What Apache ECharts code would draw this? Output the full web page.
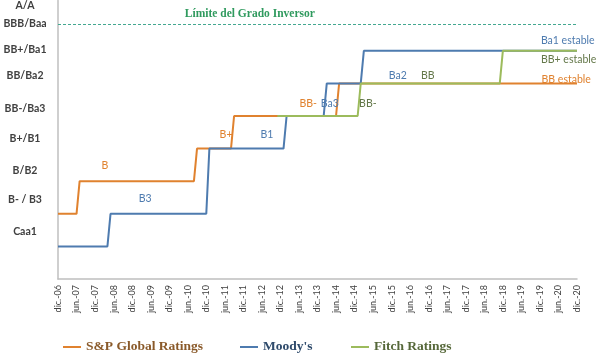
<!DOCTYPE html>
<html>
<head>
<meta charset="utf-8">
<script src="https://cdn.jsdelivr.net/npm/echarts@6/dist/echarts.min.js"></script>
<style>html,body{margin:0;padding:0;background:#fff}#c{width:600px;height:356px}</style>
</head>
<body>
<div id="c"></div>
<script>
// ---- data (x = months since dic.-06, y = rating level: 1=Caa1 ... 7=BB+/Ba1, 8=BBB/Baa) ----
const xTickLabels = ['dic.-06','jun.-07','dic.-07','jun.-08','dic.-08','jun.-09','dic.-09','jun.-10','dic.-10',
  'jun.-11','dic.-11','jun.-12','dic.-12','jun.-13','dic.-13','jun.-14','dic.-14','jun.-15','dic.-15',
  'jun.-16','dic.-16','jun.-17','dic.-17','jun.-18','dic.-18','jun.-19','dic.-19','jun.-20','dic.-20'];
const yTickLabels = ['Caa1','B- / B3','B/B2','B+/B1','BB-/Ba3','BB/Ba2','BB+/Ba1','BBB/Baa','A/A'];
const yTickValues = [1.44, 2.45, 3.31, 4.32, 5.24, 6.24, 7.04, 7.84, 8.39];
const spData = [[0,2],[6,2],[7,3],[44,3],[45,4],[56,4],[57,5],[90,5],[91,6],[168,6]];
const moodysData = [[0,1],[16,1],[17,2],[48,2],[49,4],[73,4],[74,5],[86,5],[87,6],[98,6],[99,7],[168,7]];
const fitchData = [[71,5],[97,5],[98,6],[143,6],[144,7],[168,7]];
const investGradeLimit = 7.83;
const seriesNames = ['S&P Global Ratings', "Moody's", 'Fitch Ratings'];
const spNotes = [['B',15.2,3.49],['B+',54.4,4.44],['BB-',81,5.39],['BB estable',164.5,6.13]];
const moodysNotes = [['B3',28.2,2.48],['B1',67.6,4.44],['Ba3',88,5.39],['Ba2',110,6.24],['Ba1 estable',165,7.32]];
const fitchNotes = [['BB-',100.3,5.39],['BB',119.7,6.24],['BB+ estable',165.3,6.73]];

const C_SP = '#E0822F', C_MO = '#4E7BAF', C_FI = '#9CBB5C';
const chart = echarts.init(document.getElementById('c'));
function notes(list, color) {
  return {
    symbol: 'circle', symbolSize: 0, silent: true,
    label: { show: true, position: 'inside', color: color, fontFamily: 'Lato', fontSize: 10.5 },
    data: list.map(n => ({ name: n[0], coord: [n[1], n[2]], label: { formatter: n[0] } }))
  };
}
const lineBase = { type: 'line', showSymbol: false, symbol: 'none', clip: false, animation: false };
chart.setOption({
  animation: false,
  grid: { left: 58, right: 23, top: 0, bottom: 77 },
  xAxis: {
    type: 'value', min: 0, max: 168, interval: 6,
    axisLine: { lineStyle: { color: '#BFBFBF', width: 1.5 } },
    axisTick: { show: false }, splitLine: { show: false },
    axisLabel: { rotate: 90, margin: 6, fontFamily: 'Lato', fontSize: 9, color: '#404040',
      showMinLabel: true, showMaxLabel: true,
      formatter: v => xTickLabels[Math.round(v / 6)] || '' }
  },
  yAxis: {
    type: 'value', min: 0, max: 8.54,
    axisLine: { show: true, lineStyle: { color: '#BFBFBF', width: 1.5 } },
    axisTick: { show: false }, splitLine: { show: false },
    axisLabel: { customValues: yTickValues, align: 'center', margin: 33,
      fontFamily: 'Lato', fontWeight: 'bold', fontSize: 10.5, color: '#404040',
      formatter: v => { const i = yTickValues.findIndex(t => Math.abs(t - v) < 1e-6); return i >= 0 ? yTickLabels[i] : ''; } }
  },
  legend: [0, 1, 2].map(i => ({
    data: [{ name: seriesNames[i], textStyle: { color: ['#8A5A2A', '#2E4A6B', '#56683A'][i] } }],
    left: [58, 235, 346][i], top: 335, icon: 'rect', itemWidth: 18, itemHeight: 2,
    textStyle: { fontFamily: 'Liberation Serif', fontWeight: 'bold', fontSize: 13.5 }
  })),
  series: [
    Object.assign({}, lineBase, { name: seriesNames[0], data: spData, color: C_SP, lineStyle: { width: 2, color: C_SP },
      markPoint: notes(spNotes, C_SP) }),
    Object.assign({}, lineBase, { name: seriesNames[1], data: moodysData, color: C_MO, lineStyle: { width: 2, color: C_MO },
      markPoint: notes(moodysNotes, C_MO) }),
    Object.assign({}, lineBase, { name: seriesNames[2], data: fitchData, color: C_FI, lineStyle: { width: 2, color: C_FI },
      markPoint: {
        symbol: 'circle', symbolSize: 0, silent: true,
        label: { show: true, position: 'inside', color: '#64784A', fontFamily: 'Lato', fontSize: 10.5 },
        data: fitchNotes.map(n => ({ name: n[0], coord: [n[1], n[2]], label: { formatter: n[0] } })).concat([
          { name: 'limit', coord: [62.1, 8.14], label: { formatter: 'Límite del Grado Inversor', color: '#2F9A5E',
            fontFamily: 'Liberation Serif', fontWeight: 'bold', fontSize: 11.5 } }
        ])
      },
      markLine: {
        silent: true, symbol: 'none', animation: false,
        lineStyle: { type: [3, 2], color: '#43A890', width: 1.2 },
        label: { show: false },
        data: [{ yAxis: investGradeLimit }]
      } })
  ]
});
</script>
</body>
</html>
